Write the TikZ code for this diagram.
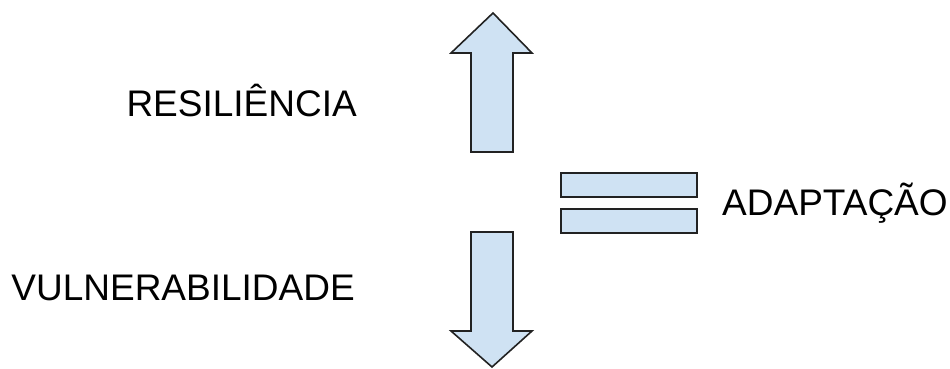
\documentclass[tikz,border=0pt]{standalone}
\usepackage{fontspec}
\setmainfont{Liberation Sans}
\definecolor{paleblue}{HTML}{CFE2F3}
\definecolor{edge}{HTML}{222222}
\begin{document}
\begin{tikzpicture}[x=1pt,y=-1pt,
  shapefill/.style={fill=paleblue,draw=edge,line width=1.6pt,line join=miter},
  label/.style={inner sep=0pt,font=\fontsize{37}{42}\selectfont}]
\useasboundingbox (0,0) rectangle (950,369);
% upward arrow
\draw[shapefill] (493,13) -- (532,53) -- (513,53) -- (513,152) -- (471,152)
  -- (471,53) -- (451,53) -- cycle;
% downward arrow
\draw[shapefill] (471,232) -- (513,232) -- (513,331) -- (532,331) -- (492,367)
  -- (451,331) -- (471,331) -- cycle;
% equals sign
\draw[shapefill] (561,173) rectangle (697,197);
\draw[shapefill] (561,209) rectangle (697,233);
% labels
\node[label,anchor=base east] (res) at (357,116) {RESILIÊNCIA};
\node[label,anchor=base east] (vul) at (355,300) {VULNERABILIDADE};
\node[label,anchor=base west] (ada) at (722,215) {ADAPTAÇÃO};
\end{tikzpicture}
\end{document}
